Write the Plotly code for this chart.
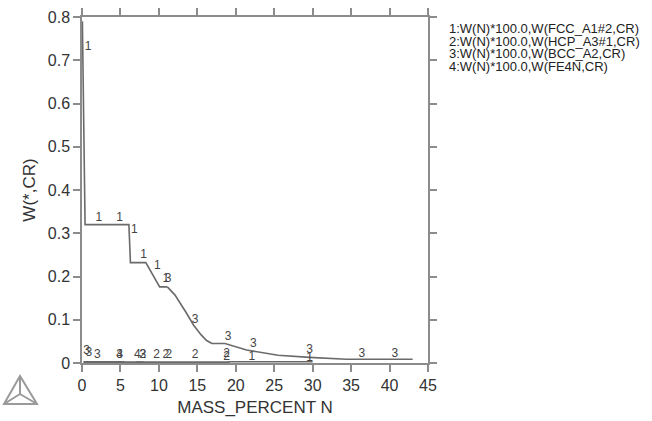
import plotly.graph_objects as go

# ---- data ----
# Series 1: W(N)*100.0, W(FCC_A1#2,CR)
fcc_x = [0.05, 0.4, 6.1, 6.3, 8.3, 10.1, 11.1]
fcc_y = [0.79, 0.32, 0.32, 0.232, 0.232, 0.176, 0.176]
fcc_low_x = [19.0, 22.0, 26.0, 30.0]
fcc_low_y = [0.003, 0.003, 0.003, 0.003]
# Series 2: W(N)*100.0, W(HCP_A3#1,CR)
hcp_x = [7.0, 10.0, 12.0, 15.0, 19.2]
hcp_y = [0.002, 0.002, 0.002, 0.002, 0.002]
# Series 3: W(N)*100.0, W(BCC_A2,CR)
bcc_x = [11.1, 12.1, 13.6, 14.5, 15.5, 16.2, 16.9, 18.6, 21.4, 24.4, 25.5, 29.6, 34.4, 43.0]
bcc_y = [0.176, 0.157, 0.115, 0.088, 0.065, 0.052, 0.045, 0.045, 0.030, 0.022, 0.018, 0.013, 0.0085, 0.0085]
bcc_low_x = [0.2, 2.0, 4.0, 5.5]
bcc_low_y = [0.003, 0.003, 0.003, 0.003]
# Series 4: W(N)*100.0, W(FE4N,CR)
fe4n_x = [0.2, 4.0, 8.0]
fe4n_y = [0.002, 0.002, 0.002]

# curve labels
lab1_x = [0.8, 2.2, 4.9, 6.8, 8.0, 9.8, 10.9, 22.1, 29.6]
lab1_y = [0.73, 0.335, 0.335, 0.307, 0.249, 0.224, 0.194, 0.015, 0.011]
lab2_x = [7.9, 9.7, 10.9, 11.3, 14.7, 18.8, 18.8]
lab2_y = [0.018, 0.018, 0.018, 0.018, 0.018, 0.021, 0.015]
lab3_x = [0.6, 0.9, 2.0, 4.9, 7.9, 11.2, 14.7, 19.0, 22.3, 29.6, 36.4, 40.7]
lab3_y = [0.028, 0.022, 0.018, 0.018, 0.018, 0.194, 0.099, 0.059, 0.045, 0.030, 0.021, 0.021]
lab4_x = [4.9, 7.2]
lab4_y = [0.018, 0.018]

legend_lines = [
    "1:W(N)*100.0,W(FCC_A1#2,CR)",
    "2:W(N)*100.0,W(HCP_A3#1,CR)",
    "3:W(N)*100.0,W(BCC_A2,CR)",
    "4:W(N)*100.0,W(FE4N,CR)",
]

x_ticks = [0, 5, 10, 15, 20, 25, 30, 35, 40, 45]
y_ticks = [0, 0.1, 0.2, 0.3, 0.4, 0.5, 0.6, 0.7, 0.8]

LINE = "#6a6a6a"
AXIS = "#8c8c8c"
TXT = "#333333"
FONT = "Liberation Sans, Arial, sans-serif"

fig = go.Figure()
for xs, ys in [(fcc_x, fcc_y), (fcc_low_x, fcc_low_y), (hcp_x, hcp_y),
               (bcc_x, bcc_y), (bcc_low_x, bcc_low_y), (fe4n_x, fe4n_y)]:
    fig.add_trace(go.Scatter(x=xs, y=ys, mode="lines",
                             line=dict(color=LINE, width=1.6),
                             showlegend=False, hoverinfo="skip"))

for lx, ly, t in [(lab1_x, lab1_y, "1"), (lab2_x, lab2_y, "2"),
                  (lab3_x, lab3_y, "3"), (lab4_x, lab4_y, "4")]:
    fig.add_trace(go.Scatter(x=lx, y=ly, mode="text", text=[t] * len(lx),
                             textposition="middle center",
                             textfont=dict(family=FONT, size=12, color="#444444"),
                             showlegend=False, hoverinfo="skip"))

L, R, T, B = 82, 224, 17, 58
W, H = 652, 421
pw, ph = W - L - R, H - T - B

def px(x):
    return (x - L) / pw

def py(y):
    return (H - B - y) / ph

# legend text (right side)
for i, s in enumerate(legend_lines):
    fig.add_annotation(text=s, xref="paper", yref="paper",
                       x=px(447), y=py(29 + 12.5 * i),
                       xanchor="left", yanchor="middle", showarrow=False,
                       font=dict(family=FONT, size=13, color="#222222"))

# Thermo-Calc style logo (decoration)
apex, bl, br, cen = (20, 376), (4, 404), (37, 404), (20, 394)
def P(p):
    return f"{px(p[0])},{py(p[1])}"
logo = (f"M {P(apex)} L {P(bl)} L {P(br)} Z "
        f"M {P(apex)} L {P(cen)} M {P(bl)} L {P(cen)} M {P(br)} L {P(cen)}")
fig.add_shape(type="path", path=logo, xref="paper", yref="paper",
              line=dict(color="#9a9a9a", width=2))

axis_common = dict(showline=True, linecolor=AXIS, linewidth=1.5,
                   ticks="outside", ticklen=7, tickcolor=AXIS, tickwidth=1.5,
                   mirror="ticks", showgrid=False, zeroline=False,
                   tickfont=dict(family=FONT, size=16, color=TXT),
                   automargin=False)

fig.update_xaxes(range=[0, 45], tickvals=x_ticks,
                 ticktext=[str(v) for v in x_ticks],
                 title=dict(text="MASS_PERCENT N", standoff=8,
                            font=dict(family=FONT, size=17, color=TXT)),
                 **axis_common)
fig.update_yaxes(range=[0, 0.8], tickvals=y_ticks,
                 ticktext=["0"] + [f"{v:.1f}" for v in y_ticks[1:]],
                 title=dict(text="W(*,CR)", standoff=8,
                            font=dict(family=FONT, size=17, color=TXT)),
                 **axis_common)

fig.update_layout(width=W, height=H,
                  margin=dict(l=L, r=R, t=T, b=B, pad=0),
                  paper_bgcolor="white", plot_bgcolor="white",
                  font=dict(family=FONT, color=TXT))

fig.write_html("out.html")
